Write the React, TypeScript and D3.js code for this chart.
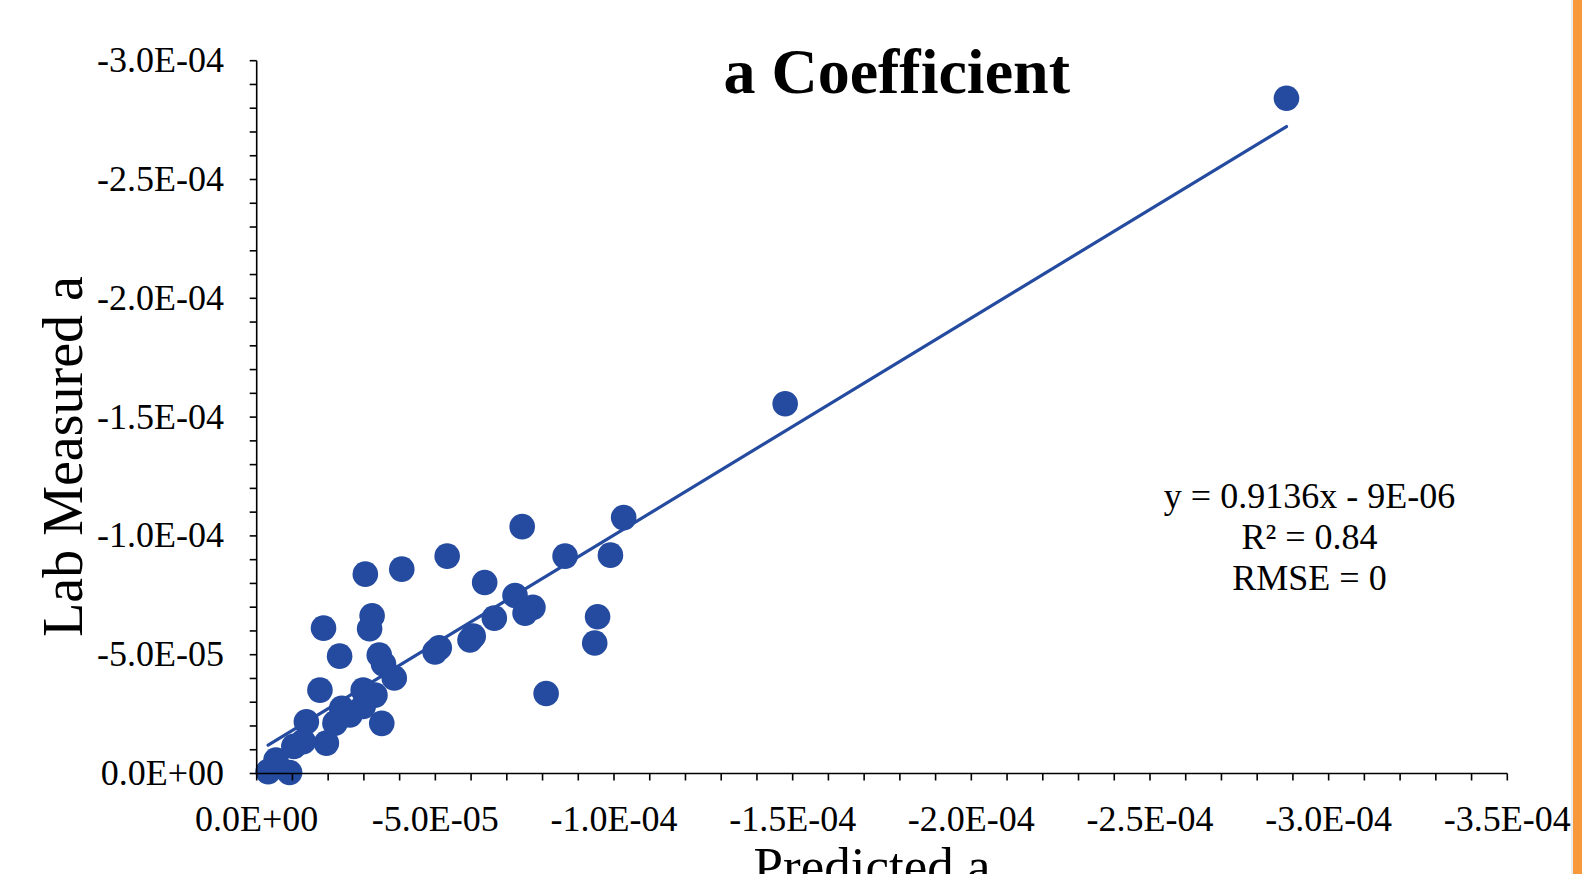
import React, { useEffect } from 'react';
import * as d3 from 'd3';

const predicted = [
  -2.882e-4, -1.479e-4, -1.027e-4, -0.743e-4, -0.863e-4, -0.99e-4, -0.533e-4, -0.406e-4,
  -0.304e-4, -0.638e-4, -0.723e-4, -0.773e-4, -0.751e-4, -0.665e-4, -0.954e-4, -0.323e-4,
  -0.316e-4, -0.187e-4, -0.606e-4, -0.597e-4, -0.511e-4, -0.499e-4, -0.946e-4, -0.232e-4,
  -0.343e-4, -0.355e-4, -0.385e-4, -0.177e-4, -0.81e-4, -0.298e-4, -0.331e-4, -0.238e-4,
  -0.261e-4, -0.298e-4, -0.35e-4, -0.139e-4, -0.219e-4, -0.195e-4, -0.104e-4, -0.13e-4,
  -0.054e-4, -0.032e-4, -0.092e-4,
];
const measured = [
  -2.842e-4, -1.556e-4, -1.077e-4, -1.039e-4, -0.915e-4, -0.919e-4, -0.915e-4, -0.86e-4,
  -0.839e-4, -0.804e-4, -0.749e-4, -0.699e-4, -0.675e-4, -0.654e-4, -0.66e-4, -0.664e-4,
  -0.609e-4, -0.612e-4, -0.578e-4, -0.562e-4, -0.529e-4, -0.512e-4, -0.549e-4, -0.494e-4,
  -0.499e-4, -0.461e-4, -0.402e-4, -0.351e-4, -0.337e-4, -0.351e-4, -0.33e-4, -0.274e-4,
  -0.246e-4, -0.282e-4, -0.211e-4, -0.218e-4, -0.212e-4, -0.128e-4, -0.114e-4, -0.134e-4,
  -0.057e-4, -0.008e-4, -0.004e-4,
];

// Linear trendline from the chart's label
const slope = 0.9136;
const intercept = -9e-6;
const statLines = ['y = 0.9136x - 9E-06', 'R² = 0.84', 'RMSE = 0'];

const xTicks = d3.range(0, 36).map(i => -i * 1e-5);
const yTicks = d3.range(0, 31).map(i => -i * 1e-5);

const W = 1582;
const H = 874;
const dotColor = '#244b9f';
const serif = '"Liberation Serif", "Times New Roman", serif';

// Excel style 0.0E+00
const fmt = (v: number) => {
  const [m, e] = v.toExponential(1).split('e');
  const sign = e[0] === '-' ? '-' : '+';
  return `${m}E${sign}${String(Math.abs(+e)).padStart(2, '0')}`;
};

const App: React.FC = () => {
  useEffect(() => {
    document.body.style.margin = '0';
    document.body.style.overflow = 'hidden';
  }, []);

  const x = d3.scaleLinear().domain([0, -3.5e-4]).range([256.7, 1507.3]);
  const y = d3.scaleLinear().domain([0, -3e-4]).range([773.5, 60.7]);

  const points = predicted.map((p, i) => ({ p, m: measured[i] }));
  const [xmin, xmax] = d3.extent(predicted) as [number, number];
  const trend = d3.line<number>()
    .x(d => x(d))
    .y(d => y(slope * d + intercept));

  const tickLen = 7;

  return (
    <svg width={W} height={H} style={{ display: 'block', background: '#fff' }}>
      <rect x={0} y={0} width={W} height={H} fill="#fff" />

      {/* title */}
      <text x={896.7} y={92.7} textAnchor="middle" fontFamily={serif} fontWeight="bold" fontSize={64} fill="#000">
        a Coefficient
      </text>

      {/* points */}
      {points.map((d, i) => (
        <circle key={i} cx={x(d.p)} cy={y(d.m)} r={12.8} fill={dotColor} />
      ))}

      {/* trendline */}
      <path d={trend([xmax, xmin]) || ''} fill="none" stroke={dotColor} strokeWidth={3.2} strokeLinecap="round" />

      {/* y axis */}
      <g stroke="#000" strokeWidth={1.6}>
        <line x1={x(0)} x2={x(0)} y1={y(-3e-4)} y2={y(0)} />
        {yTicks.map((t, i) => (
          <line key={i} x1={x(0) - tickLen} x2={x(0)} y1={y(t)} y2={y(t)} />
        ))}
      </g>
      {yTicks.filter((_, i) => i % 5 === 0).map((t, i) => (
        <text key={i} x={224} y={y(t)} dy="0.32em" textAnchor="end" fontFamily={serif} fontSize={36} fill="#000">
          {fmt(t)}
        </text>
      ))}

      {/* x axis */}
      <g stroke="#000" strokeWidth={1.6}>
        <line x1={x(0)} x2={x(-3.5e-4)} y1={y(0)} y2={y(0)} />
        {xTicks.map((t, i) => (
          <line key={i} x1={x(t)} x2={x(t)} y1={y(0)} y2={y(0) + tickLen} />
        ))}
      </g>
      {xTicks.filter((_, i) => i % 5 === 0).map((t, i) => (
        <text key={i} x={x(t)} y={830.5} textAnchor="middle" fontFamily={serif} fontSize={36} fill="#000">
          {fmt(t)}
        </text>
      ))}

      {/* axis titles */}
      <text transform="translate(81.7,456.5) rotate(-90)" textAnchor="middle" fontFamily={serif} fontSize={56} fill="#000">
        Lab Measured a
      </text>
      <text x={872} y={884} textAnchor="middle" fontFamily={serif} fontSize={53} fill="#000">
        Predicted a
      </text>

      {/* trendline stats */}
      {statLines.map((s, i) => (
        <text key={i} x={1309.5} y={508 + i * 40.8} textAnchor="middle" fontFamily={serif} fontSize={36} fill="#000">
          {s}
        </text>
      ))}

      {/* right edge strip */}
      <line x1={1572} x2={1572} y1={0} y2={H} stroke="#d9d9d9" strokeWidth={1} />
      <rect x={1573} y={0} width={W - 1573} height={H} fill="#f7983a" />
    </svg>
  );
};

export default App;
